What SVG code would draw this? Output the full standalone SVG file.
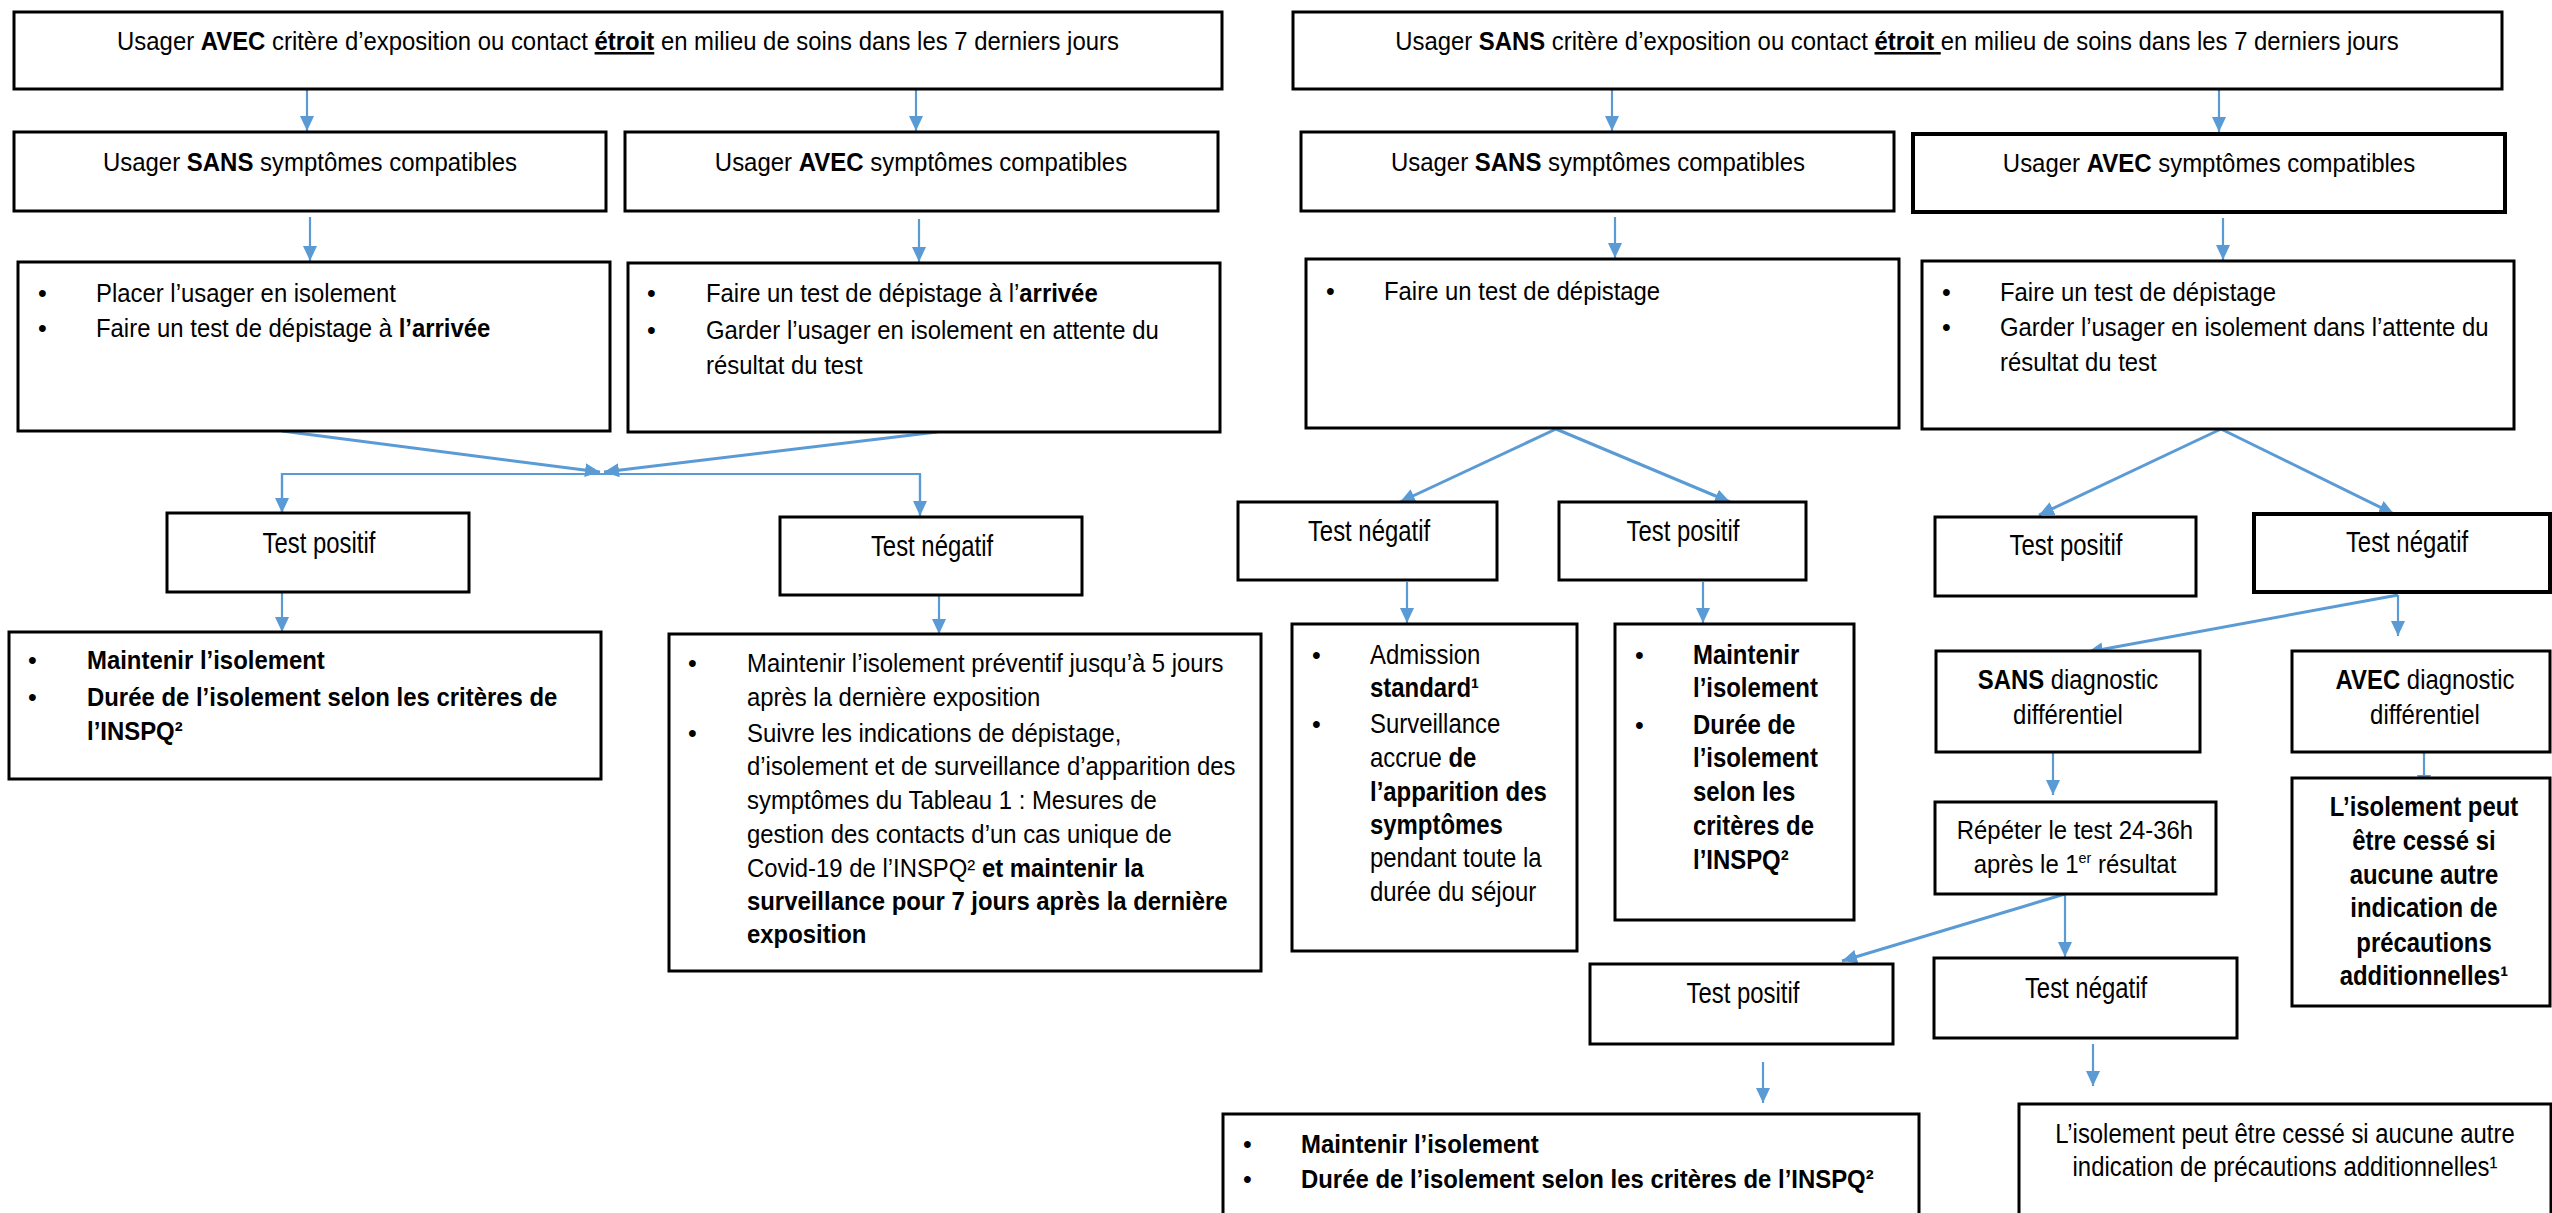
<svg xmlns="http://www.w3.org/2000/svg" width="2552" height="1213" viewBox="0 0 2552 1213">
<style>
.box{fill:#fff;stroke:#000;stroke-width:3}
.thick{stroke-width:4}
.t{font-family:"Liberation Sans",Arial,sans-serif;font-size:25px;fill:#000}
.f26{font-size:26px}
.f27{font-size:27px}
.f275{font-size:27.5px}
.f29{font-size:29px}
.b{font-weight:bold}
.c{text-anchor:middle}
.u{text-decoration:underline}
.con line,.con path{stroke:#5B9BD5;stroke-width:2.2;fill:none}
.con .d{stroke-width:3}
</style>
<defs>
<marker id="ah" markerUnits="userSpaceOnUse" markerWidth="16" markerHeight="14" refX="15" refY="7" orient="auto">
<path d="M0,0 L15,7 L0,14 z" fill="#5B9BD5"/>
</marker>
</defs>
<rect width="2552" height="1213" fill="#fff"/>

<g class="con">
<line x1="307" y1="89" x2="307" y2="131" marker-end="url(#ah)"/>
<line x1="916" y1="89" x2="916" y2="131" marker-end="url(#ah)"/>
<line x1="310" y1="217" x2="310" y2="261" marker-end="url(#ah)"/>
<line x1="919" y1="219" x2="919" y2="262" marker-end="url(#ah)"/>
<line x1="1612" y1="89" x2="1612" y2="131" marker-end="url(#ah)"/>
<line x1="2219" y1="89" x2="2219" y2="132" marker-end="url(#ah)"/>
<line x1="1615" y1="217" x2="1615" y2="258" marker-end="url(#ah)"/>
<line x1="2223" y1="218" x2="2223" y2="260" marker-end="url(#ah)"/>
<line class="d" x1="282" y1="431" x2="600" y2="472" marker-end="url(#ah)"/>
<line class="d" x1="937" y1="432" x2="604" y2="472" marker-end="url(#ah)"/>
<path d="M282,513 V474 H920 V516" />
<line x1="282" y1="474" x2="282" y2="513" marker-end="url(#ah)"/>
<line x1="920" y1="474" x2="920" y2="516" marker-end="url(#ah)"/>
<line x1="282" y1="592" x2="282" y2="632" marker-end="url(#ah)"/>
<line x1="939" y1="595" x2="939" y2="634" marker-end="url(#ah)"/>
<line class="d" x1="1556" y1="429" x2="1400" y2="502" marker-end="url(#ah)"/>
<line class="d" x1="1556" y1="429" x2="1730" y2="502" marker-end="url(#ah)"/>
<line x1="1407" y1="582" x2="1407" y2="623" marker-end="url(#ah)"/>
<line x1="1703" y1="582" x2="1703" y2="623" marker-end="url(#ah)"/>
<line class="d" x1="2221" y1="429" x2="2039" y2="515" marker-end="url(#ah)"/>
<line class="d" x1="2221" y1="429" x2="2394" y2="514" marker-end="url(#ah)"/>
<line class="d" x1="2398" y1="595" x2="2088" y2="652" marker-end="url(#ah)"/>
<line x1="2398" y1="595" x2="2398" y2="636" marker-end="url(#ah)"/>
<line x1="2053" y1="752" x2="2053" y2="795" marker-end="url(#ah)"/>
<line x1="2424" y1="749" x2="2424" y2="790" marker-end="url(#ah)"/>
<line class="d" x1="2065" y1="894" x2="1842" y2="961" marker-end="url(#ah)"/>
<line x1="2065" y1="894" x2="2065" y2="957" marker-end="url(#ah)"/>
<line x1="1763" y1="1062" x2="1763" y2="1103" marker-end="url(#ah)"/>
<line x1="2093" y1="1044" x2="2093" y2="1086" marker-end="url(#ah)"/>
</g>

<g id="n-top-left">
<rect class="box" x="14" y="12" width="1208" height="77"/>
<g transform="translate(618,0) scale(0.956,1)"><text class="t c" x="0" y="50">Usager <tspan class="b">AVEC</tspan> critère d’exposition ou contact <tspan class="b u">étroit</tspan> en milieu de soins dans les 7 derniers jours</text></g>
</g>
<g id="n-top-right">
<rect class="box" x="1293" y="12" width="1209" height="77"/>
<g transform="translate(1897,0) scale(0.956,1)"><text class="t c" x="0" y="50">Usager <tspan class="b">SANS</tspan> critère d’exposition ou contact <tspan class="b u">étroit </tspan>en milieu de soins dans les 7 derniers jours</text></g>
</g>

<g id="n-sans-sympt-l">
<rect class="box" x="14" y="132" width="592" height="79"/>
<g transform="translate(310,0) scale(0.94,1)"><text class="t" text-anchor="middle" x="0" y="171" style="font-size:25.5px">Usager <tspan class="b">SANS</tspan> symptômes compatibles</text></g>
</g>
<g id="n-avec-sympt-l">
<rect class="box" x="625" y="132" width="593" height="79"/>
<g transform="translate(921,0) scale(0.94,1)"><text class="t c" x="0" y="171" style="font-size:25.5px">Usager <tspan class="b">AVEC</tspan> symptômes compatibles</text></g>
</g>
<g id="n-sans-sympt-r">
<rect class="box" x="1301" y="132" width="593" height="79"/>
<g transform="translate(1598,0) scale(0.94,1)"><text class="t c" x="0" y="171" style="font-size:25.5px">Usager <tspan class="b">SANS</tspan> symptômes compatibles</text></g>
</g>
<g id="n-avec-sympt-r">
<rect class="box thick" x="1913" y="134" width="592" height="78"/>
<g transform="translate(2209,0) scale(0.94,1)"><text class="t c" x="0" y="172" style="font-size:25.5px">Usager <tspan class="b">AVEC</tspan> symptômes compatibles</text></g>
</g>

<g id="n-actions-l1">
<rect class="box" x="18" y="262" width="592" height="169"/>
<text class="t" x="38" y="302">•</text><text class="t" x="38" y="337">•</text>
<g transform="translate(96,0) scale(0.956,1)"><text class="t" x="0" y="302">Placer l’usager en isolement</text><text class="t" x="0" y="337">Faire un test de dépistage à <tspan class="b">l’arrivée</tspan></text></g>
</g>
<g id="n-actions-l2">
<rect class="box" x="628" y="263" width="592" height="169"/>
<text class="t" x="647" y="302">•</text><text class="t" x="647" y="339">•</text>
<g transform="translate(706,0) scale(0.956,1)"><text class="t" x="0" y="302">Faire un test de dépistage à l’<tspan class="b">arrivée</tspan></text><text class="t" x="0" y="339">Garder l’usager en isolement en attente du</text><text class="t" x="0" y="374">résultat du test</text></g>
</g>
<g id="n-actions-r1">
<rect class="box" x="1306" y="259" width="593" height="169"/>
<text class="t" x="1326" y="300">•</text>
<g transform="translate(1384,0) scale(0.956,1)"><text class="t" x="0" y="300">Faire un test de dépistage</text></g>
</g>
<g id="n-actions-r2">
<rect class="box" x="1922" y="261" width="592" height="168"/>
<text class="t" x="1942" y="301">•</text><text class="t" x="1942" y="336">•</text>
<g transform="translate(2000,0) scale(0.956,1)"><text class="t" x="0" y="301">Faire un test de dépistage</text><text class="t" x="0" y="336">Garder l’usager en isolement dans l’attente du</text><text class="t" x="0" y="371">résultat du test</text></g>
</g>

<g id="n-pos-l">
<rect class="box" x="167" y="513" width="302" height="79"/>
<g transform="translate(319,0) scale(0.824,1)"><text class="t f29 c" x="0" y="553">Test positif</text></g>
</g>
<g id="n-neg-l">
<rect class="box" x="780" y="517" width="302" height="78"/>
<g transform="translate(932,0) scale(0.824,1)"><text class="t f29 c" x="0" y="556">Test négatif</text></g>
</g>
<g id="n-neg-m">
<rect class="box" x="1238" y="502" width="259" height="78"/>
<g transform="translate(1369,0) scale(0.824,1)"><text class="t f29 c" x="0" y="541">Test négatif</text></g>
</g>
<g id="n-pos-m">
<rect class="box" x="1559" y="502" width="247" height="78"/>
<g transform="translate(1683,0) scale(0.824,1)"><text class="t f29 c" x="0" y="541">Test positif</text></g>
</g>
<g id="n-pos-r">
<rect class="box" x="1935" y="517" width="261" height="79"/>
<g transform="translate(2066,0) scale(0.824,1)"><text class="t f29 c" x="0" y="555">Test positif</text></g>
</g>
<g id="n-neg-r">
<rect class="box thick" x="2254" y="514" width="296" height="78"/>
<g transform="translate(2407,0) scale(0.824,1)"><text class="t f29 c" x="0" y="552">Test négatif</text></g>
</g>

<g id="n-maintenir-l">
<rect class="box" x="9" y="632" width="592" height="147"/>
<text class="t" x="28" y="669">•</text><text class="t" x="28" y="706">•</text>
<g transform="translate(87,0) scale(0.92,1)"><text class="t f26 b" x="0" y="669">Maintenir l’isolement</text><text class="t f26 b" x="0" y="706">Durée de l’isolement selon les critères de</text><text class="t f26 b" x="0" y="740">l’INSPQ²</text></g>
</g>
<g id="n-preventif">
<rect class="box" x="669" y="634" width="592" height="337"/>
<text class="t" x="688" y="672">•</text><text class="t" x="688" y="742">•</text>
<g transform="translate(747,0) scale(0.956,1)">
<text class="t" x="0" y="672">Maintenir l’isolement préventif jusqu’à 5 jours</text>
<text class="t" x="0" y="706">après la dernière exposition</text>
<text class="t" x="0" y="742">Suivre les indications de dépistage,</text>
<text class="t" x="0" y="775">d’isolement et de surveillance d’apparition des</text>
<text class="t" x="0" y="809">symptômes du Tableau 1 : Mesures de</text>
<text class="t" x="0" y="843">gestion des contacts d’un cas unique de</text>
<text class="t" x="0" y="877">Covid-19 de l’INSPQ² <tspan class="b">et maintenir la</tspan></text>
<text class="t b" x="0" y="910">surveillance pour 7 jours après la dernière</text>
<text class="t b" x="0" y="943">exposition</text>
</g>
</g>

<g id="n-admission">
<rect class="box" x="1292" y="624" width="285" height="327"/>
<text class="t" x="1312" y="664">•</text><text class="t" x="1312" y="733">•</text>
<g transform="translate(1370,0) scale(0.87,1)">
<text class="t f275" x="0" y="664">Admission</text>
<text class="t f275 b" x="0" y="697">standard¹</text>
<text class="t f275" x="0" y="733">Surveillance</text>
<text class="t f275" x="0" y="767">accrue <tspan class="b">de</tspan></text>
<text class="t f275 b" x="0" y="801">l’apparition des</text>
<text class="t f275 b" x="0" y="834">symptômes</text>
<text class="t f275" x="0" y="867">pendant toute la</text>
<text class="t f275" x="0" y="901">durée du séjour</text>
</g>
</g>
<g id="n-maintenir-m">
<rect class="box" x="1615" y="624" width="239" height="296"/>
<text class="t" x="1635" y="664">•</text><text class="t" x="1635" y="734">•</text>
<g transform="translate(1693,0) scale(0.87,1)">
<text class="t f275 b" x="0" y="664">Maintenir</text>
<text class="t f275 b" x="0" y="697">l’isolement</text>
<text class="t f275 b" x="0" y="734">Durée de</text>
<text class="t f275 b" x="0" y="767">l’isolement</text>
<text class="t f275 b" x="0" y="801">selon les</text>
<text class="t f275 b" x="0" y="835">critères de</text>
<text class="t f275 b" x="0" y="869">l’INSPQ²</text>
</g>
</g>

<g id="n-sans-diag">
<rect class="box" x="1936" y="651" width="264" height="101"/>
<g transform="translate(2068,0) scale(0.885,1)"><text class="t f27 c" x="0" y="689"><tspan class="b">SANS</tspan> diagnostic</text><text class="t f27 c" x="0" y="724">différentiel</text></g>
</g>
<g id="n-avec-diag">
<rect class="box" x="2292" y="651" width="258" height="101"/>
<g transform="translate(2425,0) scale(0.885,1)"><text class="t f27 c" x="0" y="689"><tspan class="b">AVEC</tspan> diagnostic</text><text class="t f27 c" x="0" y="724">différentiel</text></g>
</g>
<g id="n-repeter">
<rect class="box" x="1935" y="802" width="281" height="92"/>
<g transform="translate(2075,0) scale(0.956,1)"><text class="t c" x="0" y="839">Répéter le test 24-36h</text><text class="t c" x="0" y="873">après le 1<tspan font-size="15" dy="-10">er</tspan><tspan dy="10"> résultat</tspan></text></g>
</g>
<g id="n-cesse-bold">
<rect class="box" x="2292" y="778" width="258" height="228"/>
<g transform="translate(2424,0) scale(0.885,1)">
<text class="t f27 b c" x="0" y="816">L’isolement peut</text>
<text class="t f27 b c" x="0" y="850">être cessé si</text>
<text class="t f27 b c" x="0" y="884">aucune autre</text>
<text class="t f27 b c" x="0" y="917">indication de</text>
<text class="t f27 b c" x="0" y="952">précautions</text>
<text class="t f27 b c" x="0" y="985">additionnelles¹</text>
</g>
</g>

<g id="n-pos-b">
<rect class="box" x="1590" y="964" width="303" height="80"/>
<g transform="translate(1743,0) scale(0.824,1)"><text class="t f29 c" x="0" y="1003">Test positif</text></g>
</g>
<g id="n-neg-b">
<rect class="box" x="1934" y="958" width="303" height="80"/>
<g transform="translate(2086,0) scale(0.824,1)"><text class="t f29 c" x="0" y="998">Test négatif</text></g>
</g>

<g id="n-maintenir-b">
<rect class="box" x="1223" y="1114" width="696" height="130"/>
<text class="t" x="1243" y="1153">•</text><text class="t" x="1243" y="1188">•</text>
<g transform="translate(1301,0) scale(0.92,1)"><text class="t f26 b" x="0" y="1153">Maintenir l’isolement</text><text class="t f26 b" x="0" y="1188">Durée de l’isolement selon les critères de l’INSPQ²</text></g>
</g>
<g id="n-cesse-b">
<rect class="box" x="2019" y="1104" width="532" height="140"/>
<g transform="translate(2285,0) scale(0.885,1)"><text class="t f27 c" x="0" y="1143">L’isolement peut être cessé si aucune autre</text><text class="t f27 c" x="0" y="1176">indication de précautions additionnelles¹</text></g>
</g>
</svg>
